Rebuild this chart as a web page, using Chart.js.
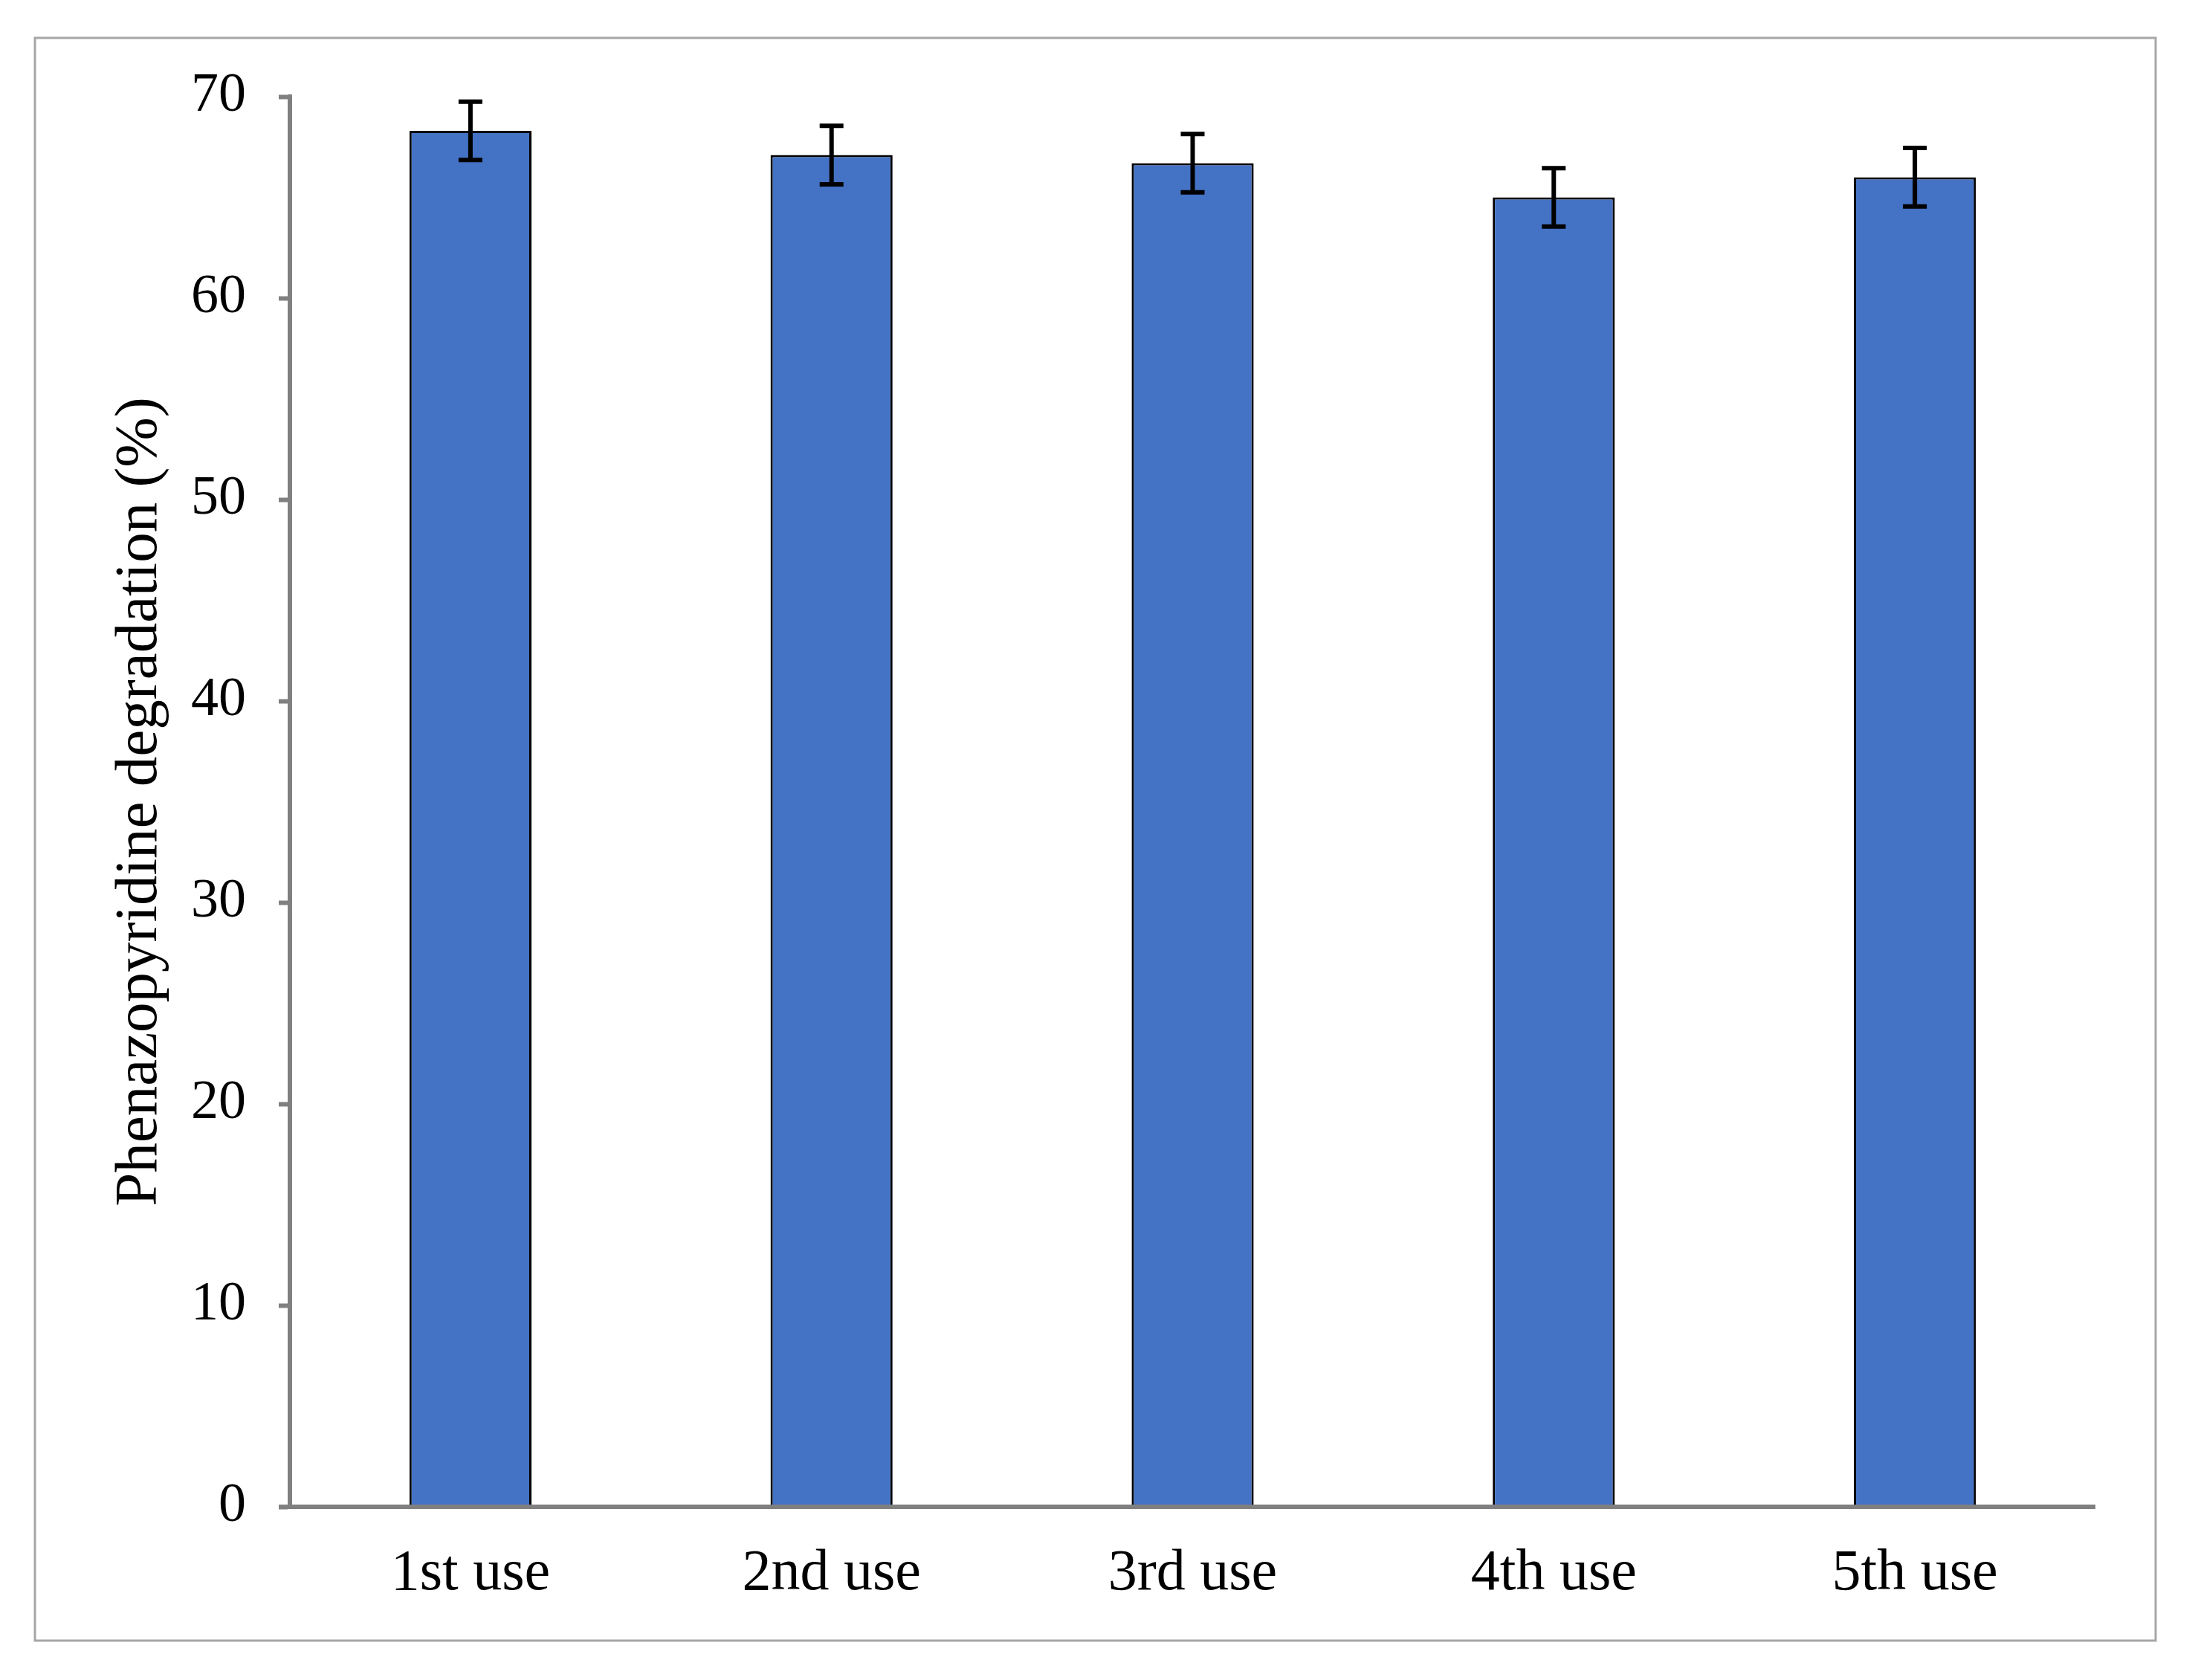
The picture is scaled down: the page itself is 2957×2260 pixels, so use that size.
<!DOCTYPE html>
<html>
<head>
<meta charset="utf-8">
<script src="https://cdn.jsdelivr.net/npm/chart.js@4.4.0/dist/chart.umd.min.js"></script>
<style>
  html, body { margin: 0; padding: 0; background: #ffffff; }
  #wrap { width: 2957px; height: 2260px; position: relative; }
</style>
</head>
<body>
<div id="wrap"><canvas id="reuseChart"></canvas></div>
<script>
// --- Data ---
const uses = ['1st use', '2nd use', '3rd use', '4th use', '5th use'];
const degradation = [68.3, 67.1, 66.7, 65.0, 66.0];
const errors = [1.45, 1.45, 1.45, 1.45, 1.45];
const yTicks = [0, 10, 20, 30, 40, 50, 60, 70];

const axisGray = '#808080';

// outer frame around the whole figure
const framePlugin = {
    id: 'frame',
    beforeDraw(chart) {
        const ctx = chart.ctx;
        ctx.save();
        ctx.fillStyle = '#ffffff';
        ctx.fillRect(0, 0, chart.width, chart.height);
        ctx.strokeStyle = '#a6a6a6';
        ctx.lineWidth = 3;
        ctx.strokeRect(47, 51, 2853, 2156);
        ctx.restore();
    }
};

// x axis line in the same gray as the y axis, running on past the last bar
const xAxisLinePlugin = {
    id: 'xAxisLine',
    afterDatasetsDraw(chart) {
        const a = chart.chartArea;
        const c = chart.ctx;
        c.save();
        c.strokeStyle = axisGray;
        c.lineWidth = 6;
        c.beginPath();
        c.moveTo(a.left - 15, a.bottom);
        c.lineTo(a.right, a.bottom);
        c.stroke();
        c.restore();
    }
};

// error bars drawn on top of the bars
const errorBarPlugin = {
    id: 'errorBars',
    afterDatasetsDraw(chart) {
        const ctx = chart.ctx;
        const yScale = chart.scales.y;
        const meta = chart.getDatasetMeta(0);
        ctx.save();
        ctx.strokeStyle = '#000000';
        ctx.lineWidth = 6;
        meta.data.forEach((bar, i) => {
            const x = bar.x;
            const hi = yScale.getPixelForValue(degradation[i] + errors[i]);
            const lo = yScale.getPixelForValue(degradation[i] - errors[i]);
            const cap = 16;
            ctx.beginPath();
            ctx.moveTo(x, hi); ctx.lineTo(x, lo);
            ctx.moveTo(x - cap, hi); ctx.lineTo(x + cap, hi);
            ctx.moveTo(x - cap, lo); ctx.lineTo(x + cap, lo);
            ctx.stroke();
        });
        ctx.restore();
    }
};

const ctx = document.getElementById('reuseChart');
new Chart(ctx, {
    type: 'bar',
    data: {
        labels: uses,
        datasets: [{
            data: degradation,
            backgroundColor: '#4472C4',
            borderColor: '#000000',
            borderWidth: 3,
            barPercentage: 0.338,
            categoryPercentage: 1.0
        }]
    },
    options: {
        responsive: true,
        maintainAspectRatio: false,
        animation: false,
        devicePixelRatio: 1,
        layout: { padding: { left: 0, top: 130, right: 138, bottom: 0 } },
        plugins: {
            legend: { display: false },
            tooltip: { enabled: false }
        },
        scales: {
            x: {
                grid: { display: false, drawTicks: false },
                border: { display: false },
                ticks: {
                    color: '#000000',
                    padding: 44,
                    font: { family: 'Liberation Serif', size: 78 }
                },
                afterFit(scale) { scale.height = 233; }
            },
            y: {
                min: 0,
                max: 70,
                afterBuildTicks(scale) {
                    scale.ticks = yTicks.map(v => ({ value: v }));
                },
                grid: {
                    drawOnChartArea: false,
                    drawTicks: true,
                    tickLength: 15,
                    tickWidth: 6,
                    color: axisGray
                },
                border: { display: true, color: axisGray, width: 6 },
                ticks: {
                    color: '#000000',
                    padding: 44,
                    font: { family: 'Liberation Serif', size: 74 }
                },
                title: {
                    display: true,
                    text: 'Phenazopyridine degradation (%)',
                    color: '#000000',
                    font: { family: 'Liberation Serif', size: 81 },
                    padding: { top: 140, bottom: 0 }
                },
                afterFit(scale) { scale.width = 390; }
            }
        }
    },
    plugins: [framePlugin, xAxisLinePlugin, errorBarPlugin]
});
</script>
</body>
</html>
